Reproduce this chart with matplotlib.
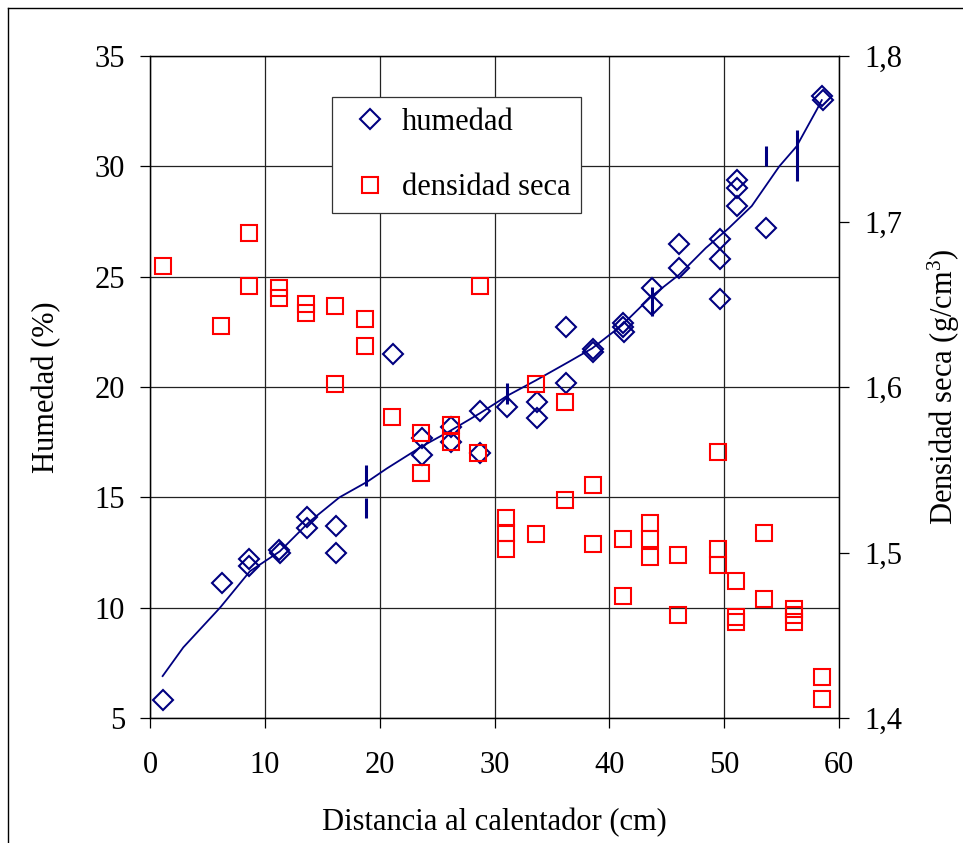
import numpy as np
import matplotlib
matplotlib.use("Agg")
import matplotlib.pyplot as plt
from matplotlib.lines import Line2D

plt.rcParams["font.family"] = ["Liberation Serif", "DejaVu Serif"]
plt.rcParams["mathtext.fontset"] = "custom"
plt.rcParams["mathtext.rm"] = "Liberation Serif"
plt.rcParams["mathtext.it"] = "Liberation Serif"

# humedad (%) vs distancia (cm)
x_hum = [1.1, 6.3, 8.6, 8.6, 11.2, 11.3, 13.7, 13.7, 16.2, 16.2, 21.2, 23.7, 23.7,
         26.2, 26.2, 28.7, 28.7, 31.1, 33.7, 33.7, 36.2, 36.2, 38.6, 38.6, 41.2,
         41.2, 41.3, 43.7, 43.7, 46.1, 46.1, 49.6, 49.6, 49.6, 51.1, 51.1, 51.1,
         53.6, 58.5, 58.6]
humedad = [5.8, 11.1, 12.2, 11.9, 12.6, 12.5, 14.1, 13.6, 13.7, 12.5, 21.5, 17.7, 16.9,
           18.2, 17.5, 18.9, 17.0, 19.1, 19.3, 18.6, 22.7, 20.2, 21.7, 21.6, 22.9,
           22.7, 22.5, 24.5, 23.7, 26.5, 25.4, 26.7, 25.8, 24.0, 29.4, 29.0, 28.2,
           27.2, 33.2, 33.0]

# densidad seca (g/cm3)
x_dens = [1.1, 6.2, 8.6, 8.6, 11.2, 11.2, 13.6, 13.6, 16.1, 16.1, 18.7, 18.7, 21.1,
          23.6, 23.6, 26.2, 26.2, 28.7, 28.6, 31.0, 31.0, 31.0, 33.6, 33.6, 36.1,
          36.1, 38.6, 38.6, 41.2, 41.2, 43.5, 43.5, 43.5, 46.0, 46.0, 49.5, 49.5,
          49.5, 51.0, 51.0, 51.0, 53.5, 53.5, 56.1, 56.1, 56.1, 58.5, 58.5]
densidad = [1.673, 1.637, 1.693, 1.661, 1.660, 1.654, 1.650, 1.645, 1.649, 1.602, 1.641,
            1.625, 1.582, 1.572, 1.548, 1.577, 1.567, 1.661, 1.560, 1.521, 1.512, 1.502,
            1.602, 1.511, 1.591, 1.532, 1.541, 1.505, 1.508, 1.474, 1.518, 1.508, 1.497,
            1.4985, 1.462, 1.561, 1.502, 1.4925, 1.483, 1.461, 1.458, 1.512, 1.472,
            1.466, 1.462, 1.458, 1.425, 1.4115]

# linea de tendencia
x_trend = [1.1, 2.9, 6.1, 8.7, 11.3, 13.9, 16.5, 18.9, 20.6, 23.65, 26.1, 28.7, 31.1,
           33.6, 36.5, 38.5, 41.1, 43.65, 46.1, 48.4, 50.4, 52.4, 54.8, 56.3, 58.1, 58.5]
y_trend = [6.9, 8.2, 10.0, 11.65, 12.55, 13.9, 15.0, 15.7, 16.3, 17.3, 18.0, 18.8, 19.6,
           20.3, 21.15, 21.75, 22.8, 24.1, 25.1, 26.3, 27.2, 28.2, 30.0, 30.9, 32.6, 33.0]

# marcas verticales
x_marks = [18.8, 18.8, 31.1, 43.7, 53.6, 56.3]
marks_lo = [15.5, 14.05, 19.25, 23.2, 30.0, 29.35]
marks_hi = [16.45, 14.95, 20.2, 24.55, 30.9, 31.65]

x_ticks = [0, 10, 20, 30, 40, 50, 60]
hum_ticks = [5, 10, 15, 20, 25, 30, 35]
dens_ticks = [1.4, 1.5, 1.6, 1.7, 1.8]
dens_labels = ["1,4", "1,5", "1,6", "1,7", "1,8"]

navy = "#000080"
fs = 22

fig = plt.figure(figsize=(9.63, 8.43), dpi=100)
ax = fig.add_axes([150 / 963, 1 - 718 / 843, 689 / 963, 662 / 843])
ax2 = ax.twinx()

ax.plot(x_trend, y_trend, color=navy, lw=1.3, zorder=3)
ax.vlines(x_marks, marks_lo, marks_hi, color=navy, lw=2.2, zorder=3)
h1, = ax.plot(x_hum, humedad, "D", ms=10.5, mfc="none", mec=navy, mew=1.5,
              ls="none", label="humedad", zorder=4)
h2, = ax2.plot(x_dens, densidad, "s", ms=11.5, mfc="none", mec="#ff0000", mew=1.5,
               ls="none", label="densidad seca", zorder=4)

ax.set_xlim(0, 60)
ax.set_ylim(5, 35)
ax2.set_ylim(1.4, 1.8)
ax.set_xticks(x_ticks)
ax.set_yticks(hum_ticks)
ax2.set_yticks(dens_ticks)
ax2.set_yticklabels(dens_labels)

ax.grid(True, color="#222222", lw=0.9)
ax.set_axisbelow(True)
for a in (ax, ax2):
    for s in a.spines.values():
        s.set_linewidth(0.9)
ax.tick_params(axis="y", direction="out", length=7, width=0.9, labelsize=fs, pad=11)
ax.tick_params(axis="x", direction="out", length=7, width=0.9, labelsize=fs, pad=17)
ax2.tick_params(axis="y", direction="out", length=7, width=0.9, labelsize=fs, pad=11)

ax.set_xlabel("Distancia al calentador (cm)", fontsize=fs, labelpad=20)
ax.set_ylabel("Humedad (%)", fontsize=fs, labelpad=24)
ax2.set_ylabel(r"Densidad seca (g/cm$^3$)", fontsize=fs, labelpad=17)

leg = ax2.legend([h1, h2], ["humedad", "densidad seca"], loc="upper left",
                 bbox_to_anchor=(0.264, 0.938), borderaxespad=0, fontsize=fs,
                 frameon=True, fancybox=False, edgecolor="#333333", framealpha=1,
                 labelspacing=1.2, borderpad=0.35, handletextpad=0.16,
                 handlelength=1.78)
leg.get_frame().set_linewidth(0.9)

# marco de la figura
fig.add_artist(Line2D([8 / 963, 8 / 963], [0, 1 - 8 / 843], color="black", lw=1.0))
fig.add_artist(Line2D([8 / 963, 1], [1 - 8 / 843, 1 - 8 / 843], color="black", lw=1.0))

fig.savefig("out.png", dpi=100, facecolor="white")
